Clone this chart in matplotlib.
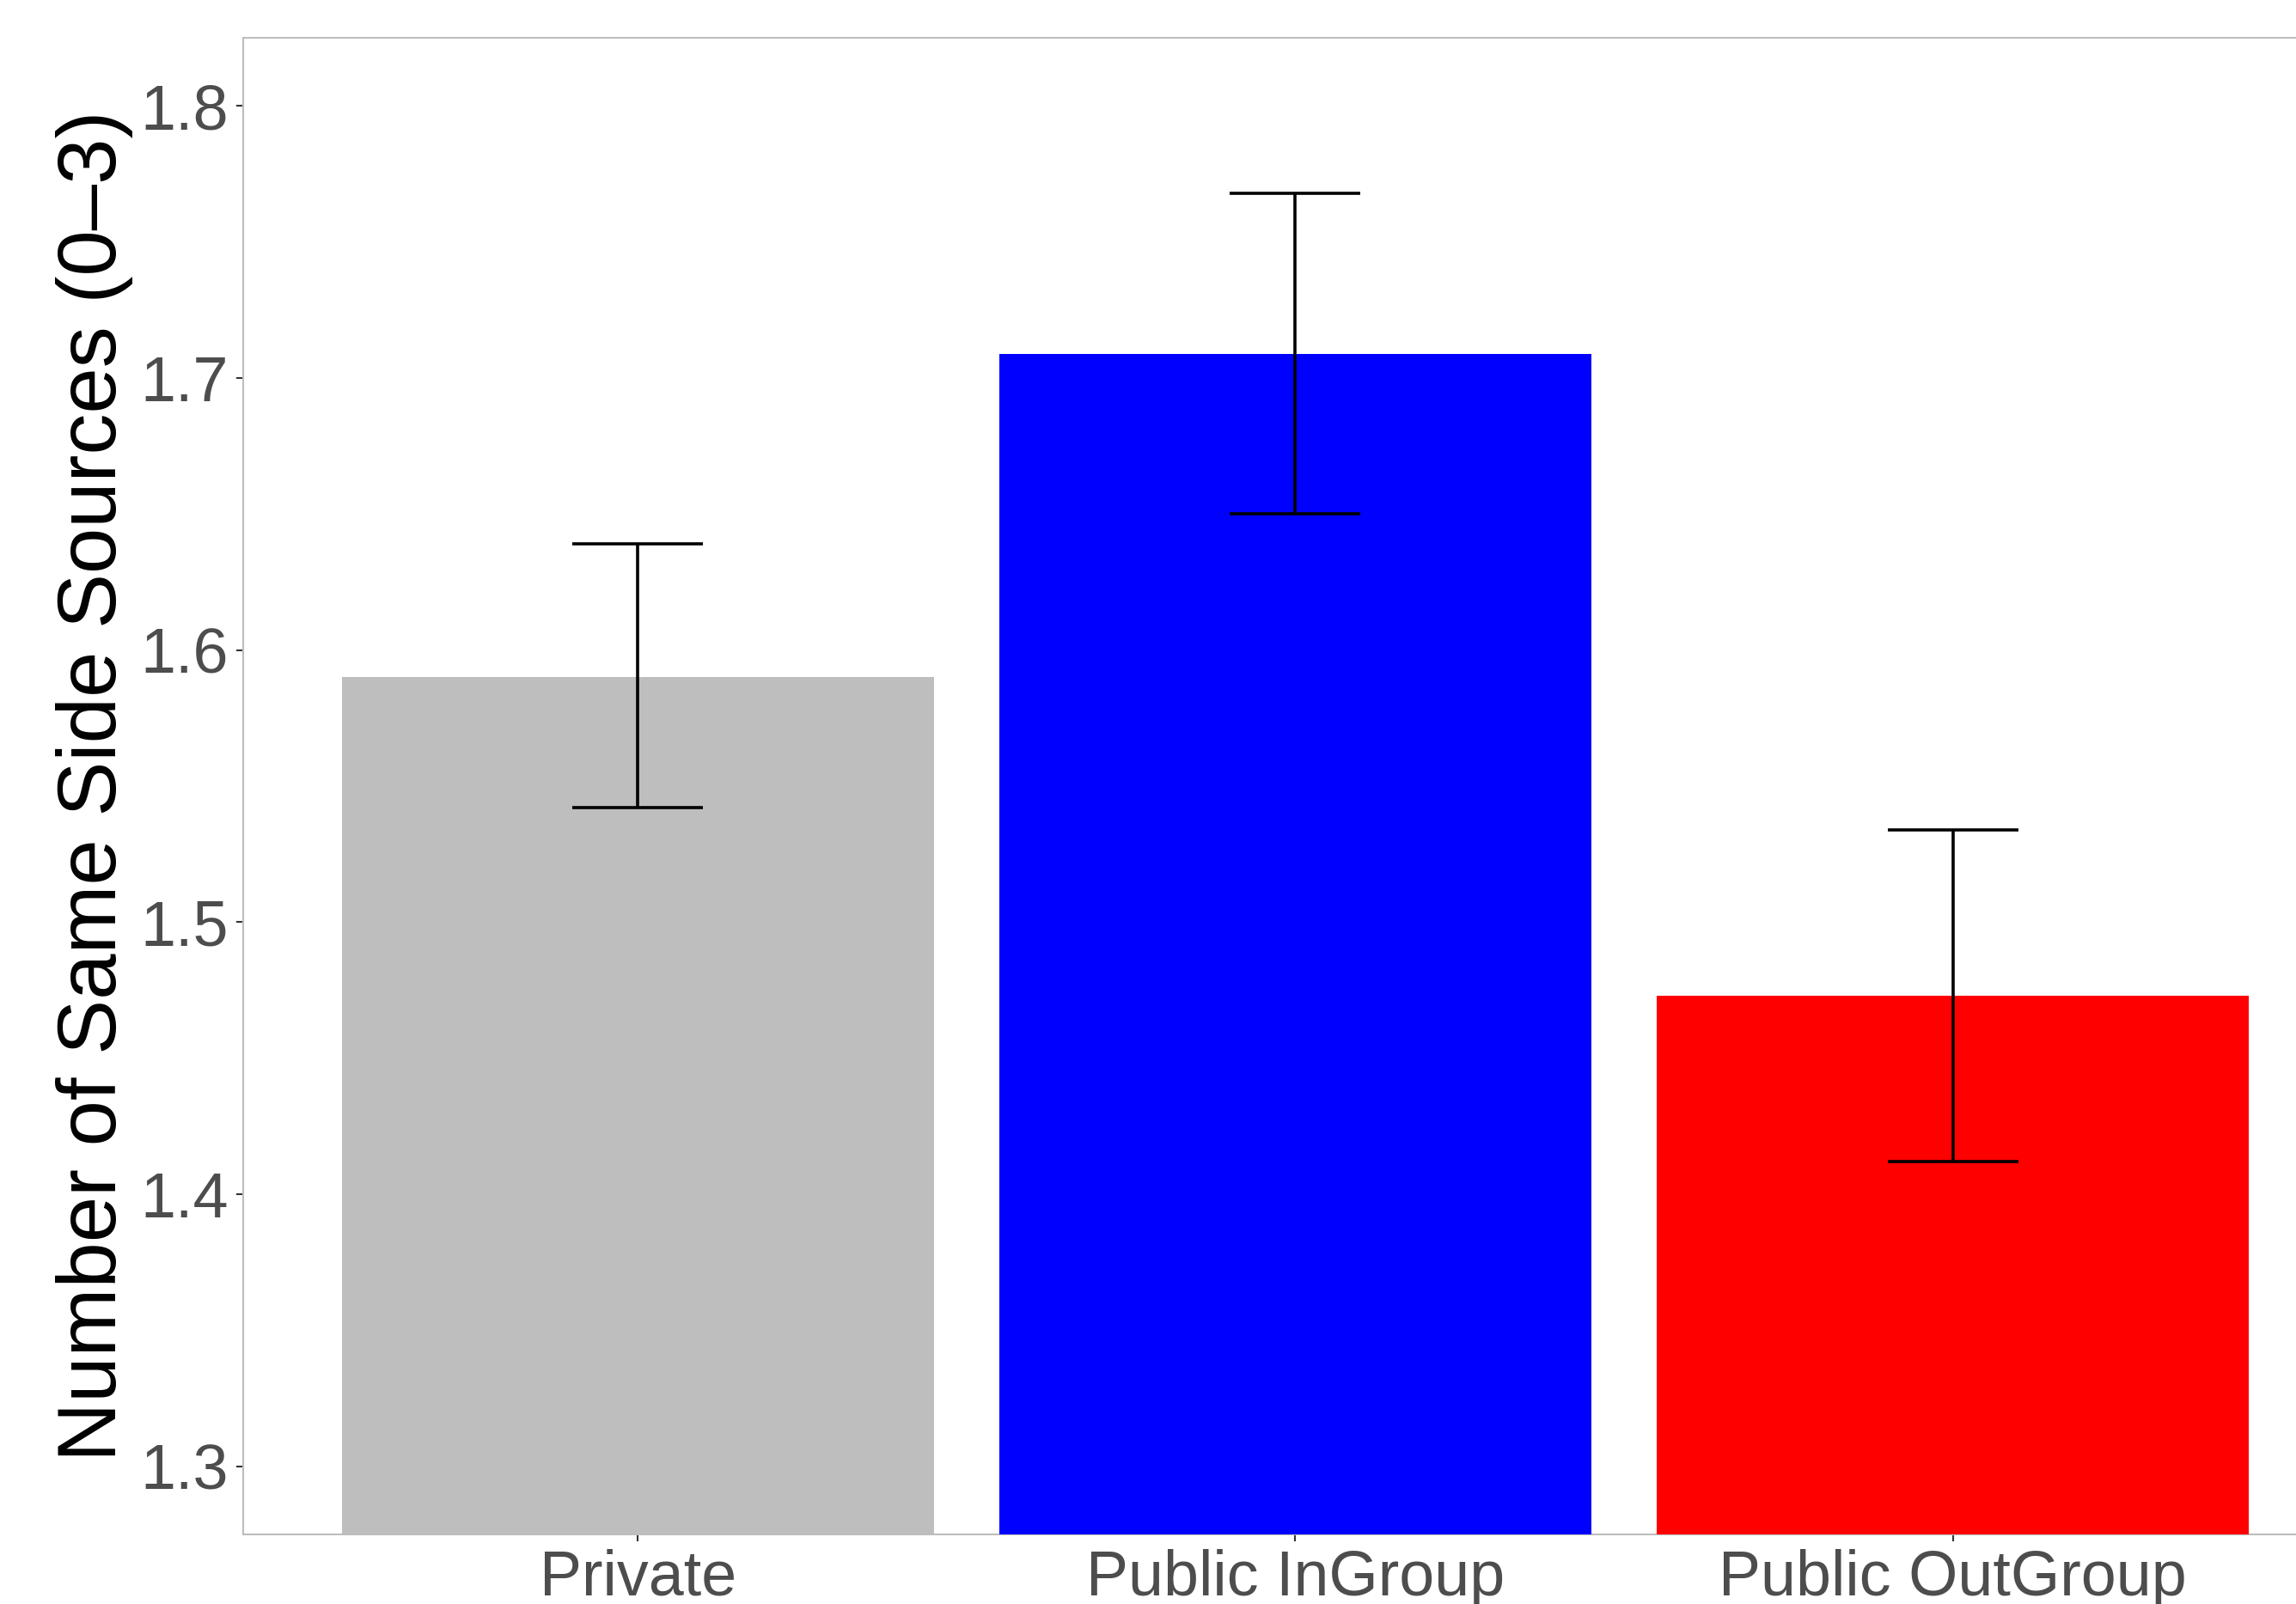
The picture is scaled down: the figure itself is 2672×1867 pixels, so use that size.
import numpy as np
import matplotlib
matplotlib.use("Agg")
import matplotlib.pyplot as plt

plt.rcParams['font.family'] = ['Liberation Sans', 'DejaVu Sans']

conditions = ["Private", "Public InGroup", "Public OutGroup"]
means = [1.590, 1.709, 1.473]
lower = [1.542, 1.650, 1.412]
upper = [1.639, 1.768, 1.534]
colours = ["#BEBEBE", "#0000FF", "#FF0000"]

fig = plt.figure(figsize=(26.72, 18.67), dpi=100)
ax = fig.add_axes([0.1059, 0.0434, 0.9165, 0.9329])

x = np.arange(1, len(conditions) + 1)
ax.bar(x, means, width=0.9, color=colours, zorder=3)

means_arr = np.array(means)
err = [means_arr - np.array(lower), np.array(upper) - means_arr]
ax.errorbar(x, means, yerr=err, fmt='none', ecolor='black',
            elinewidth=2.6, capsize=55, capthick=2.6, zorder=4)

ax.set_xlim(0.4, 3.6)
ax.set_ylim(1.275, 1.825)
ax.set_yticks([1.3, 1.4, 1.5, 1.6, 1.7, 1.8])
ax.set_xticks(x)
ax.set_xticklabels(conditions)

for s in ax.spines.values():
    s.set_color("#BDBDBD")
    s.set_linewidth(1.5)
    s.set_zorder(2)

ax.tick_params(axis='both', labelsize=53, labelcolor="#4D4D4D",
               color="#333333", length=6, width=1.5, pad=6)
ax.set_ylabel("Number of Same Side Sources (0\u20133)", fontsize=69,
              color="black", labelpad=6)

fig.savefig("out.png", dpi=100)
